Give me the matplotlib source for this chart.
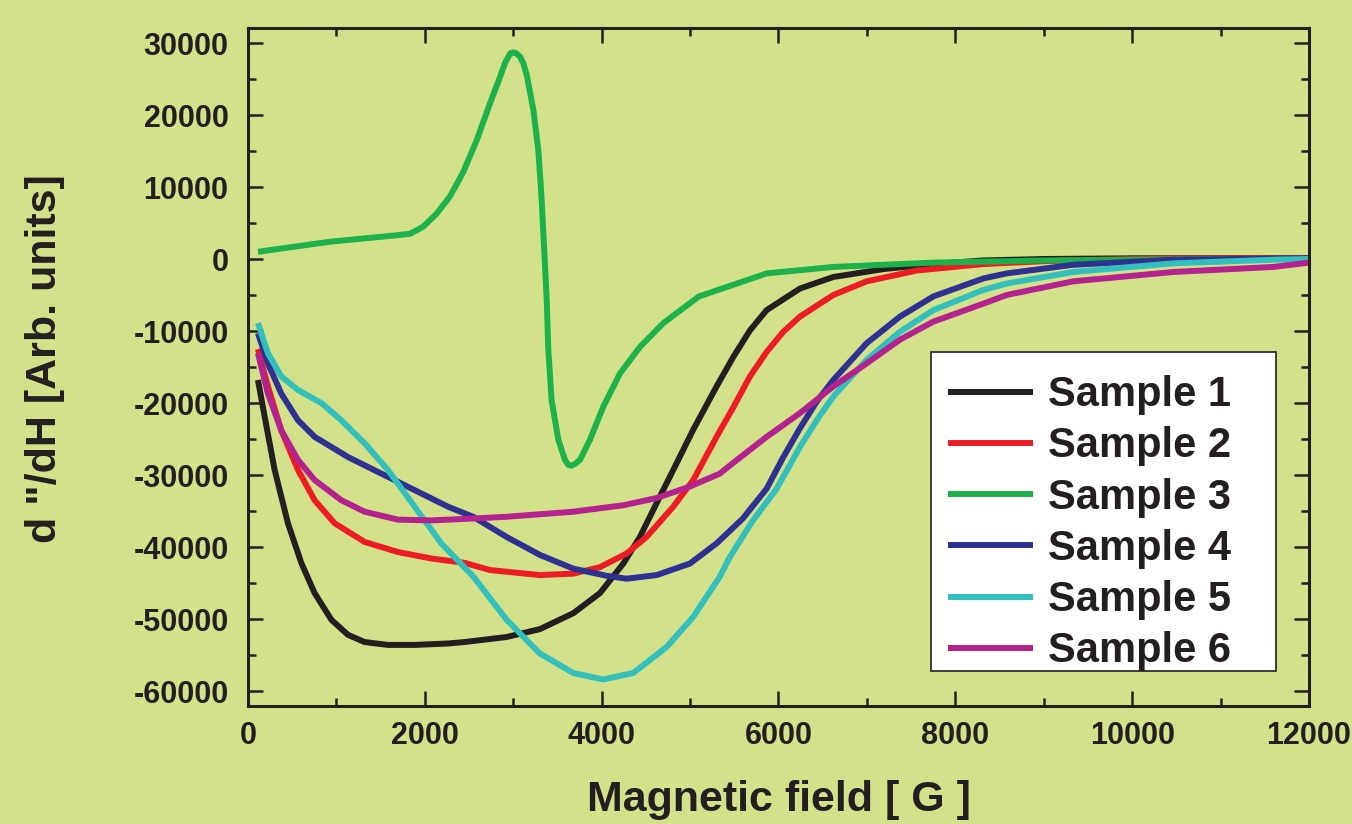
import matplotlib
matplotlib.use("Agg")
import matplotlib.pyplot as plt
from matplotlib.ticker import MultipleLocator
from matplotlib.patches import Rectangle

plt.rcParams['font.family'] = ['Liberation Sans', 'DejaVu Sans']
plt.rcParams['font.weight'] = 'bold'
plt.rcParams['axes.unicode_minus'] = False

labels = ["Sample 1", "Sample 2", "Sample 3", "Sample 4", "Sample 5", "Sample 6"]
colors = ["#231F20", "#ED1C24", "#1DB14B", "#2E3192", "#33BFBC", "#B3228F"]

s1_x = [113, 189, 302, 452, 603, 754, 943, 1131, 1320, 1583, 1885, 2262, 2450, 2925, 3302, 3679,
        3981, 4245, 4433, 4622, 4810, 5036, 5300, 5489, 5678, 5866, 6243, 6620, 7186, 7751, 8317,
        9000, 10000, 11000, 12000]
s1_y = [-16800, -21900, -29300, -36700, -42200, -46400, -50100, -52200, -53200, -53600, -53600,
        -53400, -53200, -52500, -51400, -49200, -46400, -42300, -38600, -33900, -29300, -23700,
        -17700, -13600, -9900, -7100, -4100, -2500, -1400, -700, -200, 0, 100, 100, 100]

s2_x = [113, 226, 377, 566, 754, 980, 1320, 1697, 2074, 2450, 2737, 3302, 3679, 3981, 4282, 4508,
        4810, 5036, 5300, 5489, 5678, 5866, 6055, 6243, 6620, 6997, 7563, 8317, 9000, 10000, 11000,
        12000]
s2_y = [-12500, -17700, -23800, -29300, -33500, -36700, -39300, -40700, -41600, -42200, -43200,
        -43900, -43700, -42800, -40900, -38600, -34400, -30700, -24700, -20600, -16300, -12900,
        -10100, -8000, -5000, -3100, -1600, -700, -300, 0, 100, 100]

s3_x = [113, 927, 1681, 1832, 1983, 2134, 2285, 2436, 2587, 2737, 2851, 2907, 2945, 2971, 3001,
        3031, 3077, 3114, 3152, 3228, 3284, 3322, 3360, 3379, 3397, 3434, 3510, 3585, 3623, 3661,
        3706, 3755, 3868, 4019, 4207, 4434, 4698, 5100, 5866, 6620, 7751, 9000, 10000, 11000, 12000]
s3_y = [1000, 2400, 3300, 3500, 4500, 6300, 8700, 12100, 16500, 21600, 25300, 27200, 28100, 28600,
        28700, 28600, 28100, 27200, 25600, 20700, 15100, 8200, -1100, -5700, -12600, -19600, -25100,
        -27900, -28600, -28700, -28400, -27900, -25100, -20500, -15900, -12200, -8900, -5200, -2000,
        -1100, -500, -200, -100, 0, 0]

s4_x = [113, 226, 377, 566, 754, 1131, 1508, 1885, 2262, 2548, 2925, 3302, 3679, 4056, 4282, 4622,
        4998, 5300, 5600, 5866, 6055, 6243, 6432, 6620, 6997, 7374, 7751, 8317, 8580, 9334, 10465,
        11200, 12000]
s4_y = [-10300, -14500, -18700, -22400, -24700, -27500, -29800, -32100, -34400, -35800, -38600,
        -41100, -43000, -44000, -44400, -43900, -42300, -39500, -36000, -31900, -27500, -23500,
        -19800, -16800, -11700, -8000, -5200, -2700, -2000, -800, -100, 0, 100]

s5_x = [113, 226, 377, 566, 829, 1056, 1320, 1583, 1885, 2187, 2548, 2925, 3302, 3679, 4018, 4357,
        4734, 5036, 5337, 5450, 5700, 5979, 6243, 6432, 6620, 6997, 7374, 7751, 8317, 8580, 9334,
        10465, 11596, 12000]
s5_y = [-8900, -13100, -16300, -18200, -20000, -22400, -25600, -29300, -34400, -39500, -44100,
        -50100, -54800, -57500, -58400, -57500, -53900, -49700, -44100, -41400, -36500, -31900,
        -26100, -22400, -19100, -14000, -10100, -7100, -4300, -3400, -1800, -600, -100, 0]

s6_x = [113, 226, 377, 566, 754, 1056, 1320, 1697, 2074, 2450, 2925, 3679, 4245, 4622, 4998, 5337,
        5489, 5866, 6243, 6620, 6997, 7374, 7751, 8317, 8580, 9334, 10465, 11596, 12000]
s6_y = [-13100, -18700, -23800, -27900, -30700, -33500, -35100, -36200, -36300, -36100, -35800,
        -35100, -34200, -33200, -31600, -29800, -28300, -24700, -21400, -17700, -14500, -11200,
        -8700, -6200, -5000, -3100, -1800, -1100, -500]

series = [(s1_x, s1_y), (s2_x, s2_y), (s3_x, s3_y), (s4_x, s4_y), (s5_x, s5_y), (s6_x, s6_y)]

bg = "#D3E28A"
ink = "#231F20"
fig = plt.figure(figsize=(13.52, 8.24), dpi=100, facecolor=bg)
ax = fig.add_axes([0.1834, 0.1432, 0.7848, 0.8228], facecolor=bg)

for (xs, ys), c, lab in zip(series, colors, labels):
    ax.plot(xs, ys, color=c, lw=4.3, label=lab, solid_joinstyle='round', solid_capstyle='butt')

ax.set_xlim(0, 12000)
ax.set_ylim(-62083, 32083)
ax.xaxis.set_major_locator(MultipleLocator(2000))
ax.xaxis.set_minor_locator(MultipleLocator(1000))
ax.yaxis.set_major_locator(MultipleLocator(10000))
ax.yaxis.set_minor_locator(MultipleLocator(5000))

ax.tick_params(which='both', direction='in', top=True, right=True, width=1.8, colors=ink)
ax.tick_params(which='major', length=11, labelsize=22, pad=11)
ax.tick_params(which='minor', length=6)
ax.tick_params(axis='y', which='major', pad=14)
for sp in ax.spines.values():
    sp.set_linewidth(2.2)
    sp.set_color(ink)
    sp.set_zorder(6)
for t in ax.get_xticklabels() + ax.get_yticklabels():
    t.set_fontweight('bold')
    t.set_color(ink)

ax.set_xlabel('Magnetic field [ G ]', fontsize=31, fontweight='bold', color=ink)
ax.xaxis.set_label_coords(0.5, -0.109)
ax.set_ylabel('d "/dH [Arb. units]', fontsize=31, fontweight='bold', color=ink)
ax.yaxis.set_label_coords(-0.172, 0.512)

# legend box (drawn separately so the entries can sit as in the original)
ax.add_patch(Rectangle((0.6437, 0.0516), 0.3252, 0.4705, transform=ax.transAxes,
                       facecolor='white', edgecolor=ink, linewidth=1.2, zorder=4))
leg = ax.legend(loc='upper left', bbox_to_anchor=(0.6598, 0.488), fontsize=30, frameon=False,
                handlelength=2.05, handletextpad=0.36, labelspacing=0.27,
                borderpad=0, borderaxespad=0)
leg.set_zorder(5)
for t in leg.get_texts():
    t.set_fontweight('bold')
    t.set_color(ink)
for h in leg.get_lines():
    h.set_linewidth(4.3)

fig.savefig('out.png', dpi=100, facecolor=bg)
